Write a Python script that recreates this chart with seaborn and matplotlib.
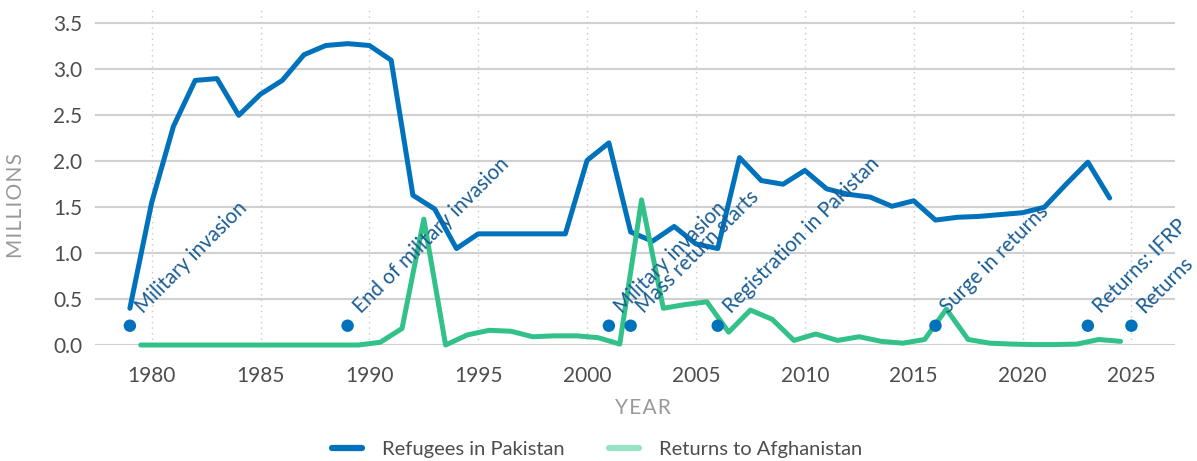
import matplotlib
matplotlib.use("Agg")
import matplotlib.pyplot as plt
from matplotlib.lines import Line2D
import seaborn as sns
import pandas as pd

# --- data (millions) -------------------------------------------------------
years = list(range(1979, 2025))

refugees_pakistan = [
    0.40, 1.55, 2.38, 2.88, 2.90, 2.50, 2.73, 2.88, 3.16, 3.26,
    3.28, 3.26, 3.10, 1.63, 1.48, 1.05, 1.21, 1.21, 1.21, 1.21,
    1.21, 2.01, 2.20, 1.23, 1.13, 1.29, 1.10, 1.05, 2.04, 1.79,
    1.75, 1.90, 1.70, 1.64, 1.61, 1.51, 1.57, 1.36, 1.39, 1.40,
    1.42, 1.44, 1.50, 1.75, 1.99, 1.60,
]

returns_afghanistan = [
    0.00, 0.00, 0.00, 0.00, 0.00, 0.00, 0.00, 0.00, 0.00, 0.00,
    0.00, 0.03, 0.18, 1.37, 0.00, 0.11, 0.16, 0.15, 0.09, 0.10,
    0.10, 0.08, 0.01, 1.58, 0.40, 0.44, 0.47, 0.14, 0.38, 0.28,
    0.05, 0.12, 0.05, 0.09, 0.04, 0.02, 0.06, 0.39, 0.06, 0.02,
    0.01, 0.005, 0.005, 0.01, 0.06, 0.04,
]

event_years = [1979, 1989, 2001, 2002, 2006, 2016, 2023, 2025]
event_labels = [
    "Military invasion", "End of military invasion", "Military invasion",
    "Mass return starts", "Registration in Pakistan", "Surge in returns",
    "Returns: IFRP", "Returns",
]
event_level = 0.21

x_ticks = [1980, 1985, 1990, 1995, 2000, 2005, 2010, 2015, 2020, 2025]
y_ticks = [0.0, 0.5, 1.0, 1.5, 2.0, 2.5, 3.0, 3.5]

BLUE = "#0072BC"
GREEN = "#32C189"
GREEN_LEGEND = "#98E2C5"
TEXT_BLUE = "#1A5D93"

# returns are reported for the year but drawn at mid-year
df = pd.concat([
    pd.DataFrame({"year": years, "value": refugees_pakistan,
                  "series": "Refugees in Pakistan"}),
    pd.DataFrame({"year": [y + 0.5 for y in years], "value": returns_afghanistan,
                  "series": "Returns to Afghanistan"}),
])
events = pd.DataFrame({"year": event_years,
                       "value": [event_level] * len(event_years),
                       "label": event_labels})

# --- style ---------------------------------------------------------------
sns.set_theme(style="white")
plt.rcParams["font.family"] = ["Lato", "DejaVu Sans"]

fig = plt.figure(figsize=(11.97, 4.61), dpi=100)
ax = fig.add_axes([0.0794, 0.2516, 0.9022, 0.7374])

sns.lineplot(data=df, x="year", y="value", hue="series",
             palette={"Refugees in Pakistan": BLUE,
                      "Returns to Afghanistan": GREEN},
             linewidth=3.6, legend=False, ax=ax, clip_on=False)

sns.scatterplot(data=events, x="year", y="value", color=BLUE, s=80,
                edgecolor="none", legend=False, ax=ax, zorder=3)

for _, row in events.iterrows():
    ax.annotate(row["label"], (row["year"], row["value"]),
                xytext=(9.5, 8.5), textcoords="offset points",
                rotation=45, rotation_mode="anchor",
                ha="left", va="baseline", fontsize=14.8,
                color=TEXT_BLUE, zorder=4)

ax.set_xlim(1977.4, 2027.0)
ax.set_ylim(0, 3.7)
ax.set_xticks(x_ticks)
ax.set_yticks(y_ticks)
ax.set_yticklabels([f"{v:.1f}" for v in y_ticks])

for side in ["top", "right", "left", "bottom"]:
    ax.spines[side].set_visible(False)

ax.tick_params(axis="both", length=0, labelsize=15, labelcolor="#4D4D4D")
ax.tick_params(axis="y", pad=9)
ax.tick_params(axis="x", pad=15)

# horizontal solid grid, vertical dotted grid
ax.grid(False)
for v in y_ticks:
    ax.axhline(v, color="#D0D0D0", linewidth=1.5, zorder=0)
for x in x_ticks:
    ax.axvline(x, ymax=0.995, color="#C8C8C8", linewidth=1.0,
               linestyle=(0, (1, 3)), zorder=0)

sp = "\u200a"
ax.set_xlabel(sp.join("YEAR"), fontsize=15, color="#999999")
ax.set_ylabel(sp.join("MILLIONS"), fontsize=15, color="#999999")
ax.xaxis.set_label_coords(0.507, -0.156)
ax.yaxis.set_label_coords(-0.064, 0.41)

handles = [
    Line2D([0], [0], color=BLUE, linewidth=4.5, solid_capstyle="round"),
    Line2D([0], [0], color=GREEN_LEGEND, linewidth=4.5, solid_capstyle="round"),
]
fig.legend(handles, ["Refugees in Pakistan", "Returns to Afghanistan"],
           loc="center", bbox_to_anchor=(0.499, 0.026), ncol=2,
           frameon=False, fontsize=14.5, handlelength=1.5,
           handletextpad=1.0, columnspacing=2.2, labelcolor="#4D4D4D")

fig.savefig("out.png", dpi=100)
